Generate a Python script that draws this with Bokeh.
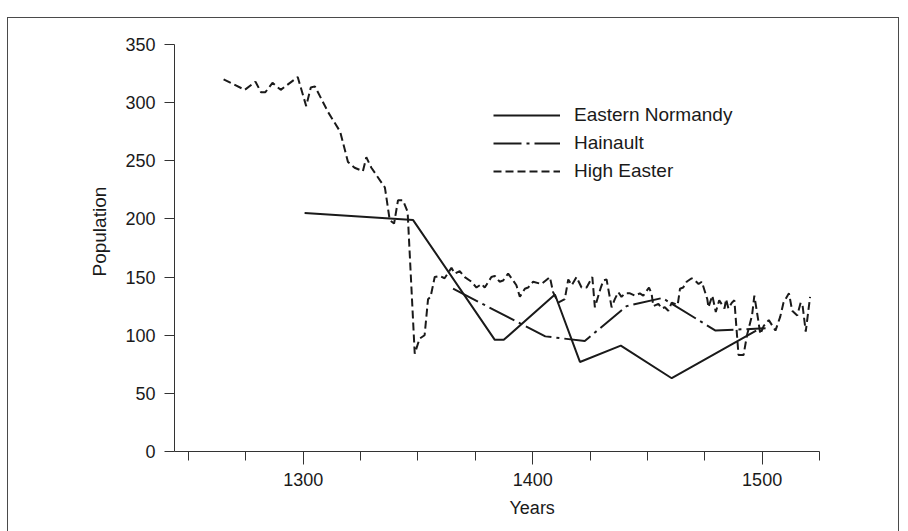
from bokeh.plotting import figure
from bokeh.models import Range1d, FixedTicker, Legend, LegendItem, Title
from bokeh.embed import file_html
from bokeh.resources import INLINE

# Population index series (year, value)
normandy_years = [1300.6, 1347.9, 1383.5, 1387.4, 1409.7, 1420.6, 1438.4, 1460.6, 1497.4]
normandy_pop = [205, 199, 96, 96, 135, 77, 91, 63, 104]

hainault_years = [1365.3, 1405.5, 1422.7, 1440.9, 1456.5, 1479.7, 1501.5]
hainault_pop = [140, 99, 95, 125, 132, 104, 106]

high_easter_years = [
    1265.3, 1274.5, 1279.2, 1281.6, 1283.5, 1286.6, 1290.2, 1297.6, 1301.3, 1303.3,
    1305.1, 1310.8, 1316.1, 1319.5, 1322.4, 1326.0, 1327.5, 1329.7, 1335.6, 1337.7,
    1339.6, 1341.3, 1343.5, 1345.5, 1348.6, 1350.7, 1352.9, 1354.4, 1355.5, 1357.3,
    1359.5, 1361.6, 1364.6, 1366.0, 1368.2, 1370.4, 1373.3, 1375.5, 1377.7, 1379.1,
    1382.0, 1383.5, 1385.6, 1387.1, 1389.3, 1391.5, 1392.9, 1394.4, 1396.6, 1398.0,
    1400.2, 1403.8, 1407.5, 1408.9, 1411.1, 1414.0, 1415.5, 1417.0, 1419.1, 1421.3,
    1423.5, 1426.0, 1427.1, 1429.7, 1430.8, 1432.2, 1434.4, 1435.8, 1437.3, 1438.7,
    1440.2, 1442.4, 1444.6, 1446.7, 1448.2, 1450.7, 1451.8, 1452.6, 1454.8, 1456.2,
    1457.6, 1459.1, 1460.6, 1463.2, 1464.2, 1465.6, 1467.1, 1469.3, 1470.8, 1472.3,
    1473.7, 1476.1, 1476.6, 1478.3, 1479.8, 1481.3, 1483.6, 1484.3, 1485.3, 1486.8,
    1487.9, 1489.7, 1491.9, 1493.4, 1495.6, 1496.6, 1497.9, 1499.2, 1500.7, 1502.9,
    1505.8, 1507.9, 1509.3, 1511.7, 1513.1, 1515.3, 1516.8, 1517.6, 1519.0, 1520.9,
]
high_easter_pop = [
    320, 311, 318, 309, 309, 317, 311, 322, 297, 313,
    314, 292, 275, 249, 244, 241, 253, 244, 227, 199,
    196, 216, 216, 206, 84, 97, 100, 131, 133, 150,
    151, 149, 158, 153, 155, 150, 146, 141, 144, 141,
    150, 151, 146, 147, 153, 147, 143, 133, 140, 141,
    146, 144, 150, 137, 128, 131, 148, 143, 150, 141,
    141, 150, 124, 141, 147, 148, 124, 131, 137, 133,
    136, 136, 134, 136, 134, 141, 136, 125, 127, 123,
    124, 121, 128, 126, 140, 141, 146, 149, 147, 144,
    146, 131, 124, 134, 120, 130, 123, 131, 123, 128,
    130, 83, 83, 100, 117, 134, 118, 101, 108, 113,
    104, 116, 128, 136, 121, 117, 128, 126, 103, 133,
]

series_names = ["Eastern Normandy", "Hainault", "High Easter"]

x_major_ticks = [1300, 1400, 1500]
x_minor_ticks = [1250, 1275, 1300, 1325, 1350, 1375, 1400, 1425, 1450, 1475, 1500, 1525]
y_ticks = [0, 50, 100, 150, 200, 250, 300, 350]

FONT = "Liberation Sans"
INK = "#1a1a1a"
AXIS = "#333333"

p = figure(
    width=892, height=514,
    x_range=Range1d(1243.9, 1525), y_range=Range1d(0, 350),
    output_backend="svg", toolbar_location=None,
    min_border_left=167, min_border_right=80, min_border_top=27, min_border_bottom=80,
)
p.margin = (17, 0, 0, 7)
p.styles = {"box-shadow": "inset 1px 1px 0 0 #4a4a4a, inset -1px 0 0 0 #4a4a4a"}
p.border_fill_color = None
p.background_fill_color = None
p.outline_line_color = None
p.xgrid.visible = False
p.ygrid.visible = False

# x axis: labelled centuries, unlabelled quarter-century ticks
xa = p.xaxis[0]
xa.ticker = FixedTicker(ticks=x_major_ticks, minor_ticks=x_minor_ticks)
xa.major_tick_in = 0
xa.major_tick_out = 13
xa.minor_tick_in = 0
xa.minor_tick_out = 9
xa.major_label_standoff = 8
ya = p.yaxis[0]
ya.ticker = FixedTicker(ticks=y_ticks)
ya.major_tick_in = 0
ya.major_tick_out = 10
ya.major_label_standoff = 9
for ax in (xa, ya):
    ax.axis_line_color = AXIS
    ax.major_tick_line_color = AXIS
    ax.major_label_text_font = FONT
    ax.major_label_text_font_size = "18px"
    ax.major_label_text_color = INK
xa.minor_tick_line_color = AXIS
ya.minor_tick_line_color = None

ylab = Title(text="Population", align="left", offset=175, standoff=26, text_font=FONT,
             text_font_size="19px", text_font_style="normal", text_color=INK)
p.add_layout(ylab, "left")
xlab = Title(text="Years", align="left", offset=335, standoff=15, text_font=FONT,
             text_font_size="18px", text_font_style="normal", text_color=INK)
p.add_layout(xlab, "below")

r_norm = p.line(normandy_years, normandy_pop, line_color=INK, line_width=2)
r_hain = p.line(hainault_years, hainault_pop, line_color=INK, line_width=2,
                line_dash="28 5 3 5")
r_high = p.line(high_easter_years, high_easter_pop, line_color=INK, line_width=2,
                line_dash="8 4")

legend = Legend(
    items=[LegendItem(label=n, renderers=[r]) for n, r in zip(series_names, [r_norm, r_hain, r_high])],
    location=(319, 269),
    glyph_width=67, glyph_height=22, label_height=22, label_standoff=14,
    spacing=6, padding=0, margin=0,
    border_line_color=None, background_fill_alpha=0,
    label_text_font=FONT, label_text_font_size="19px", label_text_color=INK,
)
p.add_layout(legend)

open("out.html", "w").write(file_html(p, INLINE))
